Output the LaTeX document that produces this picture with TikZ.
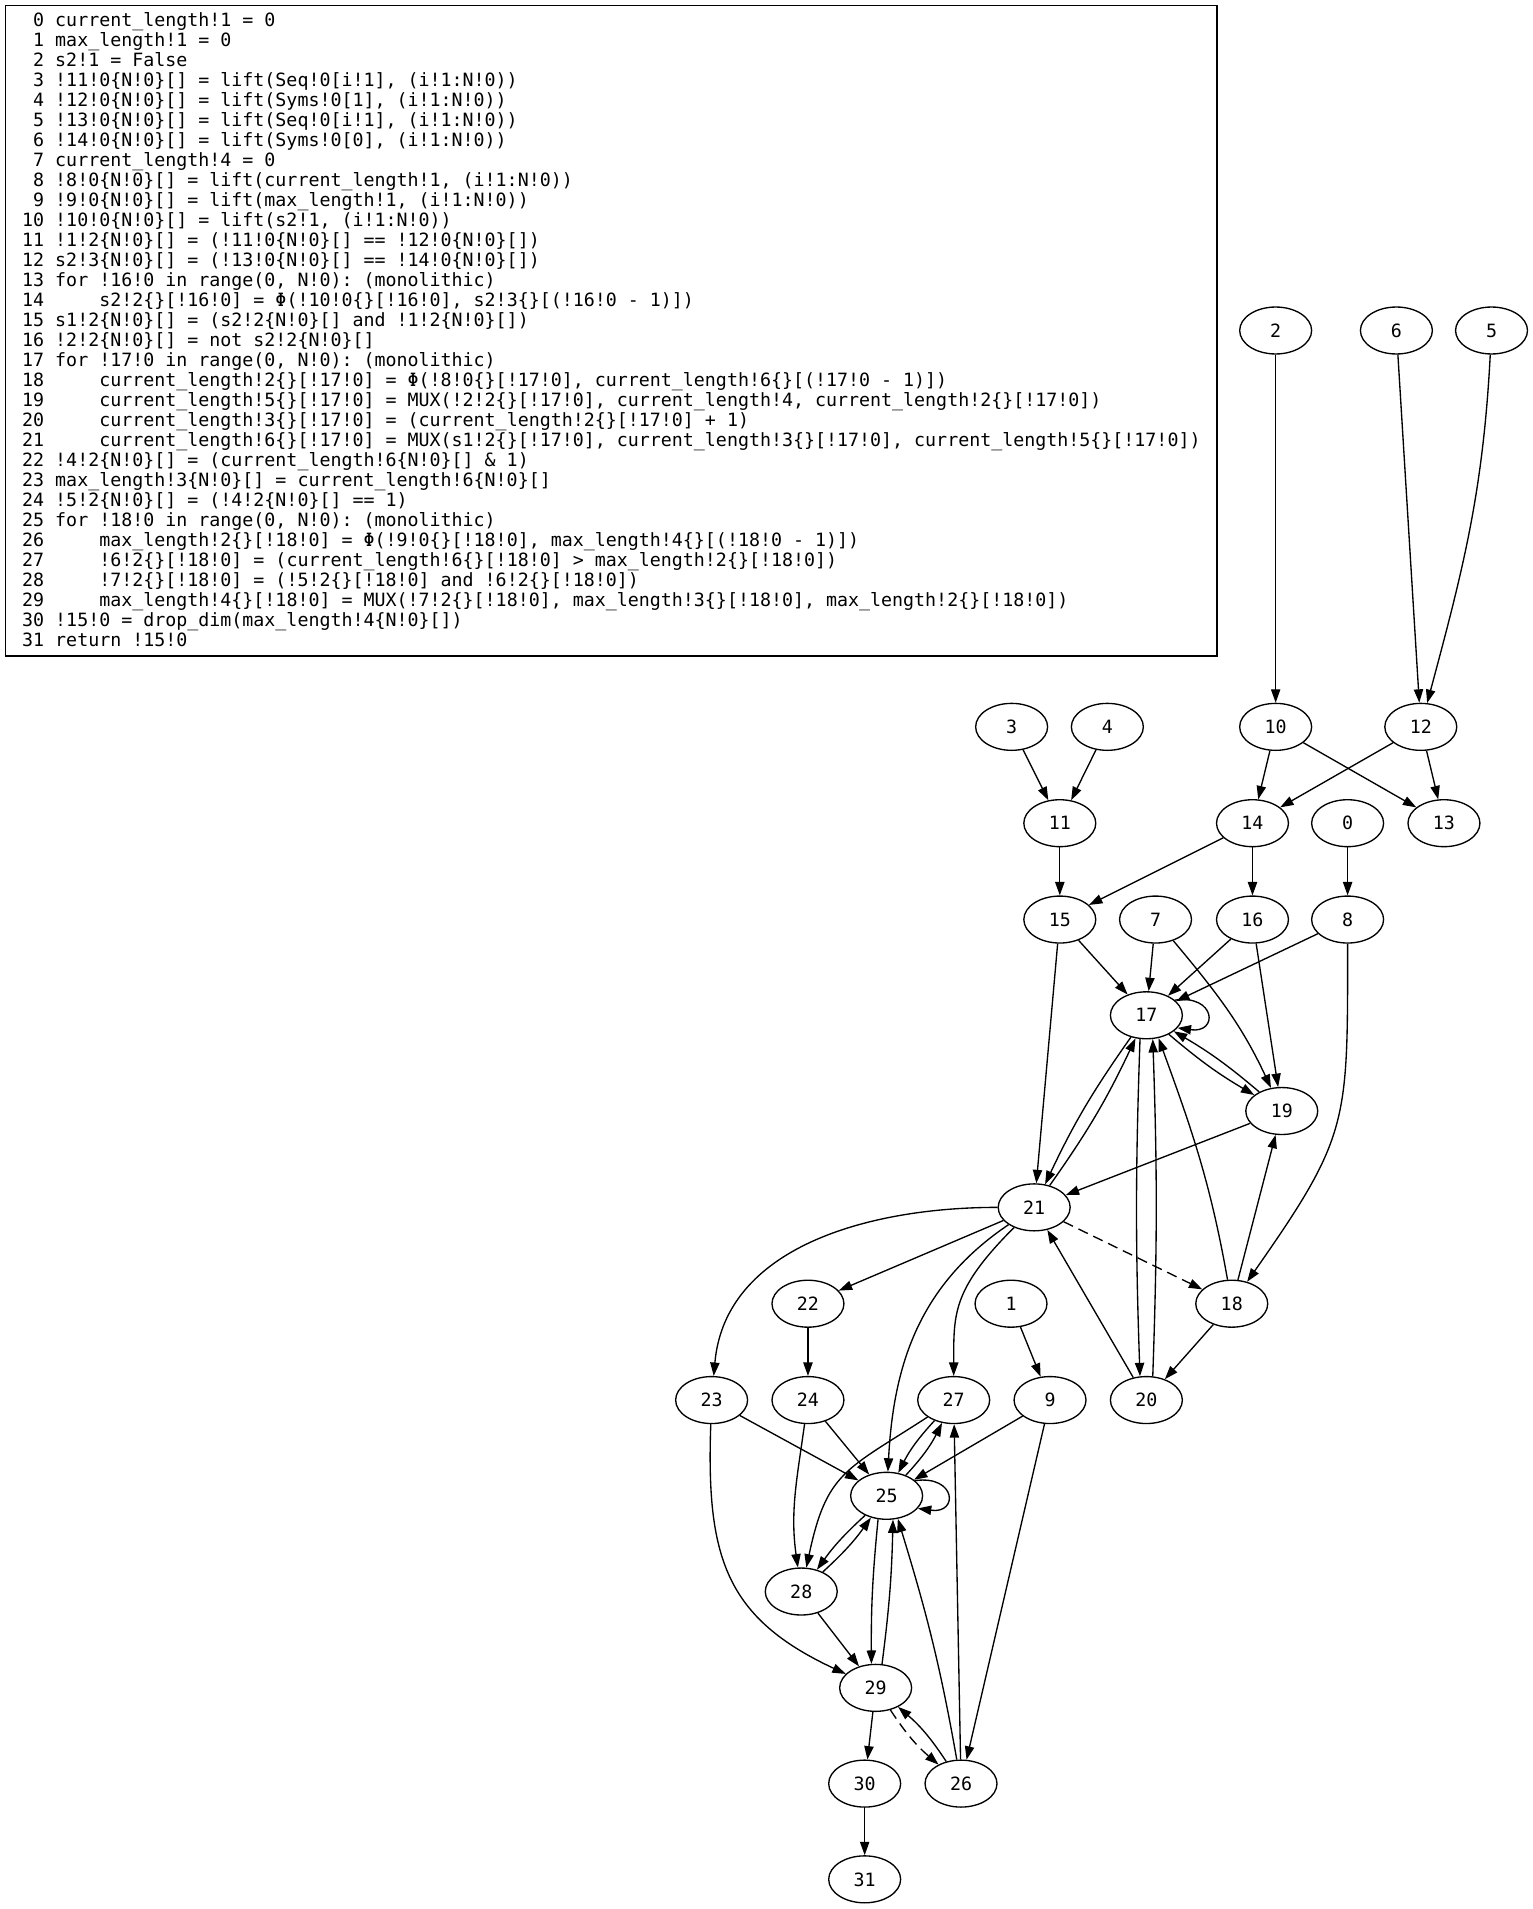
\documentclass[tikz,border=0pt]{standalone}
\usepackage{fontspec}
\newfontfamily\codefont{DejaVu Sans Mono}
\usetikzlibrary{shapes.geometric,arrows.meta}
\tikzstyle{peer}=[draw,ellipse,line width=1.1pt,minimum width=59pt,minimum height=38.5pt,inner sep=0pt,font=\codefont\fontsize{15}{18}\selectfont]
\tikzstyle{link}=[draw,line width=1.1pt,-{Triangle[length=11pt,width=7.6pt]}]
\tikzstyle{weak}=[dash pattern=on 8.5pt off 5pt]
\tikzstyle{codebox}=[draw,rectangle,line width=1.1pt,minimum width=993.5pt,minimum height=533.5pt,inner sep=0pt]
\tikzstyle{codeline}=[anchor=base west,inner sep=0pt,font=\codefont\fontsize{15}{16.4}\selectfont\frenchspacing]
\newcommand\ind{\hphantom{0000}}
\begin{document}
\begin{tikzpicture}[x=1pt,y=1pt]
\useasboundingbox (0,0) rectangle (1257,-1565.33);
\node[codebox] (code) at (501.25,-271.25) {};
\foreach \codetext [count=\i from 0] in {
  {current\_length!1 = 0},
  {max\_length!1 = 0},
  {s2!1 = False},
  {!11!0\{N!0\}[] = lift(Seq!0[i!1], (i!1:N!0))},
  {!12!0\{N!0\}[] = lift(Syms!0[1], (i!1:N!0))},
  {!13!0\{N!0\}[] = lift(Seq!0[i!1], (i!1:N!0))},
  {!14!0\{N!0\}[] = lift(Syms!0[0], (i!1:N!0))},
  {current\_length!4 = 0},
  {!8!0\{N!0\}[] = lift(current\_length!1, (i!1:N!0))},
  {!9!0\{N!0\}[] = lift(max\_length!1, (i!1:N!0))},
  {!10!0\{N!0\}[] = lift(s2!1, (i!1:N!0))},
  {!1!2\{N!0\}[] = (!11!0\{N!0\}[] == !12!0\{N!0\}[])},
  {s2!3\{N!0\}[] = (!13!0\{N!0\}[] == !14!0\{N!0\}[])},
  {for !16!0 in range(0, N!0): (monolithic)},
  {\ind s2!2\{\}[!16!0] = Φ(!10!0\{\}[!16!0], s2!3\{\}[(!16!0 - 1)])},
  {s1!2\{N!0\}[] = (s2!2\{N!0\}[] and !1!2\{N!0\}[])},
  {!2!2\{N!0\}[] = not s2!2\{N!0\}[]},
  {for !17!0 in range(0, N!0): (monolithic)},
  {\ind current\_length!2\{\}[!17!0] = Φ(!8!0\{\}[!17!0], current\_length!6\{\}[(!17!0 - 1)])},
  {\ind current\_length!5\{\}[!17!0] = MUX(!2!2\{\}[!17!0], current\_length!4, current\_length!2\{\}[!17!0])},
  {\ind current\_length!3\{\}[!17!0] = (current\_length!2\{\}[!17!0] + 1)},
  {\ind current\_length!6\{\}[!17!0] = MUX(s1!2\{\}[!17!0], current\_length!3\{\}[!17!0], current\_length!5\{\}[!17!0])},
  {!4!2\{N!0\}[] = (current\_length!6\{N!0\}[] \& 1)},
  {max\_length!3\{N!0\}[] = current\_length!6\{N!0\}[]},
  {!5!2\{N!0\}[] = (!4!2\{N!0\}[] == 1)},
  {for !18!0 in range(0, N!0): (monolithic)},
  {\ind max\_length!2\{\}[!18!0] = Φ(!9!0\{\}[!18!0], max\_length!4\{\}[(!18!0 - 1)])},
  {\ind !6!2\{\}[!18!0] = (current\_length!6\{\}[!18!0] > max\_length!2\{\}[!18!0])},
  {\ind !7!2\{\}[!18!0] = (!5!2\{\}[!18!0] and !6!2\{\}[!18!0])},
  {\ind max\_length!4\{\}[!18!0] = MUX(!7!2\{\}[!18!0], max\_length!3\{\}[!18!0], max\_length!2\{\}[!18!0])},
  {!15!0 = drop\_dim(max\_length!4\{N!0\}[])},
  {return !15!0}}
  \node[codeline] (l\i) at (18,-22-16.4*\i) {\hbox to 18.06pt{\hss\i} \codetext};
% graph nodes
\foreach \place/\name in {
  {(1046,-271)/2}, {(1145,-271)/6}, {(1223,-271)/5},
  {(829.5,-596)/3}, {(908,-596)/4}, {(1046,-596)/10}, {(1165,-596)/12},
  {(869,-675)/11}, {(1027,-675)/14}, {(1105,-675)/0}, {(1184,-675)/13},
  {(869,-754)/15}, {(947.5,-754)/7}, {(1027,-754)/16}, {(1105,-754)/8},
  {(940,-832.5)/17}, {(1051,-911)/19}, {(848,-990)/21},
  {(662.5,-1069)/22}, {(829,-1069)/1}, {(1010,-1069)/18},
  {(583.5,-1148)/23}, {(662.5,-1148)/24}, {(782,-1148)/27}, {(861,-1148)/9}, {(940,-1148)/20},
  {(727,-1226.5)/25}, {(657,-1305)/28}, {(718,-1384)/29},
  {(709,-1462.5)/30}, {(788,-1462.5)/26}, {(709,-1541)/31}}
    \node[peer] (\name) at \place {\name};
% straight edges
\foreach \source/\dest in {2/10, 6/12, 3/11, 4/11, 10/14, 10/13, 12/14, 12/13, 11/15, 14/15, 14/16, 0/8,
    15/17, 7/17, 16/17, 8/17, 16/19, 15/21, 19/21, 18/19, 18/20, 20/21, 21/22, 22/24, 1/9,
    23/25, 24/25, 9/25, 9/26, 28/29, 26/27, 29/30, 30/31}
  \draw[link] (\source) -- (\dest);
% edges in both directions
\foreach \source/\dest/\ang in {17/19/5, 19/17/5, 17/21/5, 21/17/5, 27/25/8, 25/27/8, 25/28/6, 28/25/6, 26/29/8}
  \draw[link] (\source) to[bend right=\ang] (\dest);
\draw[link,weak] (21) -- (18);
\draw[link,weak] (29) to[bend right=8] (26);
% curved edges
\draw[link] (5) to[out=-93,in=75] (12);
\draw[link] (7) to[out=-50,in=115] (19);
\draw[link] (8) to[out=-90,in=55,looseness=1.3] (18);
\draw[link] (18) to[out=100,in=-70] (17.-62);
\draw[link] (17.-105) to[bend right=2] (20.105);
\draw[link] (20.75) to[bend right=2] (17.-75);
\draw[link] (21) to[out=180,in=85] (23);
\draw[link] (21) to[out=-146,in=87] (25);
\draw[link] (21) to[out=-135,in=90,out looseness=1.4] (27);
\draw[link] (23) to[out=-92,in=155,looseness=1.2] (29);
\draw[link] (24) to[out=-98,in=98] (28);
\draw[link] (27) to[out=-147,in=78,looseness=1.3] (28);
\draw[link] (25.-110) to[bend right=3] (29.100);
\draw[link] (29.75) to[bend right=3] (25.-75);
\draw[link] (26.100) to[out=100,in=-73] (25.-64);
% self loops
\draw[link] (17.28) to[out=8,in=-8,distance=34pt] (17.-22);
\draw[link] (25.28) to[out=8,in=-8,distance=34pt] (25.-22);
\end{tikzpicture}
\end{document}
